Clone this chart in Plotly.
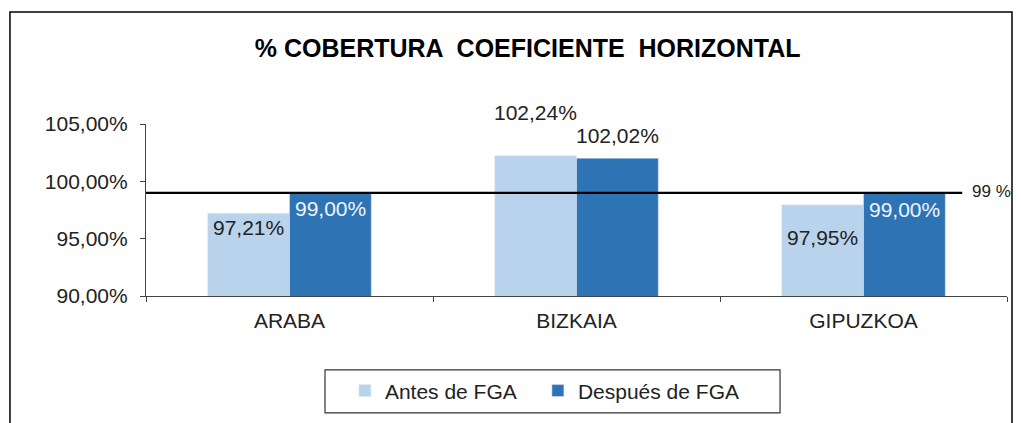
import plotly.graph_objects as go

categories = ["ARABA", "BIZKAIA", "GIPUZKOA"]
antes = [97.21, 102.24, 97.95]
despues = [99.00, 102.02, 99.00]
series_names = ["Antes de FGA", "Después de FGA"]
target = 99.0
target_label = "99 %"
y_ticks = [90, 95, 100, 105]
title = "% COBERTURA  COEFICIENTE  HORIZONTAL"

# label style (pixel offsets from bar top)
antes_yshift = [-14, 43, -33]
despues_yshift = [-16, 23, -17]
antes_txtcol = ["#222222", "#222222", "#222222"]
despues_txtcol = ["#f0f4fa", "#222222", "#f0f4fa"]

LIGHT = "#b9d3ec"
DARK = "#2e74b5"
FONT = "Liberation Sans, Arial, sans-serif"
FS = 21


def fmt(v):
    return f"{v:.2f}".replace(".", ",") + "%"


fig = go.Figure()
fig.add_trace(go.Bar(x=categories, y=antes, name=series_names[0], marker_color=LIGHT))
fig.add_trace(go.Bar(x=categories, y=despues, name=series_names[1], marker_color=DARK))
# invisible spacer entry so the last legend label is not clipped by the fixed entry width
fig.add_trace(go.Scatter(x=[None], y=[None], mode="lines", name=" ",
                         line=dict(width=0, color="rgba(0,0,0,0)"), hoverinfo="skip"))

annotations = []
for i, c in enumerate(categories):
    annotations.append(dict(x=c, y=antes[i], xref="x", yref="y", text=fmt(antes[i]),
                            showarrow=False, xshift=-41, yshift=antes_yshift[i],
                            font=dict(size=FS, color=antes_txtcol[i], family=FONT)))
    annotations.append(dict(x=c, y=despues[i], xref="x", yref="y", text=fmt(despues[i]),
                            showarrow=False, xshift=41, yshift=despues_yshift[i],
                            font=dict(size=FS, color=despues_txtcol[i], family=FONT)))
annotations.append(dict(x=0.957, y=target, xref="paper", yref="y", text=target_label,
                        showarrow=False, xanchor="left", yshift=1,
                        font=dict(size=17, color="#222222", family=FONT)))

shapes = [
    dict(type="line", xref="paper", yref="y", x0=0, x1=0.948, y0=target, y1=target,
         line=dict(color="black", width=2.2)),
    dict(type="rect", xref="paper", yref="paper", x0=-0.158, x1=1.0058, y0=-0.95, y1=1.651,
         line=dict(color="black", width=1.5), layer="below"),
    dict(type="rect", xref="paper", yref="paper", x0=0.2079, x1=0.7364, y0=-0.680, y1=-0.430,
         line=dict(color="#333333", width=1.2)),
]

W, H = 1013, 415
fig.update_layout(
    width=W, height=H,
    margin=dict(l=138, r=14, t=116, b=127),
    paper_bgcolor="white", plot_bgcolor="white",
    separators=",.",
    font=dict(family=FONT, size=FS, color="#222222"),
    title=dict(text=title, x=0.513, xanchor="center", y=1 - 40 / H, yanchor="middle",
               font=dict(size=25, color="black", family=FONT, weight="bold")),
    barmode="group", bargap=0.43, bargroupgap=0,
    showlegend=True,
    legend=dict(orientation="h", x=0.231, xanchor="left", y=-0.552, yanchor="middle",
                entrywidth=148, bgcolor="rgba(0,0,0,0)", font=dict(size=FS, color="#222222")),
    annotations=annotations,
    shapes=shapes,
)
fig.update_yaxes(range=[90, 105], tickvals=y_ticks, ticktext=[fmt(v) for v in y_ticks],
                 showgrid=False, zeroline=False, showline=True, linecolor="#444444", linewidth=1.2,
                 ticks="outside", ticklen=5, tickcolor="#444444", ticklabelstandoff=8,
                 tickfont=dict(size=FS, color="#222222"))
fig.update_xaxes(showline=True, linecolor="#444444", linewidth=1.2, ticks="outside",
                 tickson="boundaries", ticklen=5, tickcolor="#444444", ticklabelstandoff=6,
                 tickfont=dict(size=FS, color="#222222"))

fig.write_html("out.html")
